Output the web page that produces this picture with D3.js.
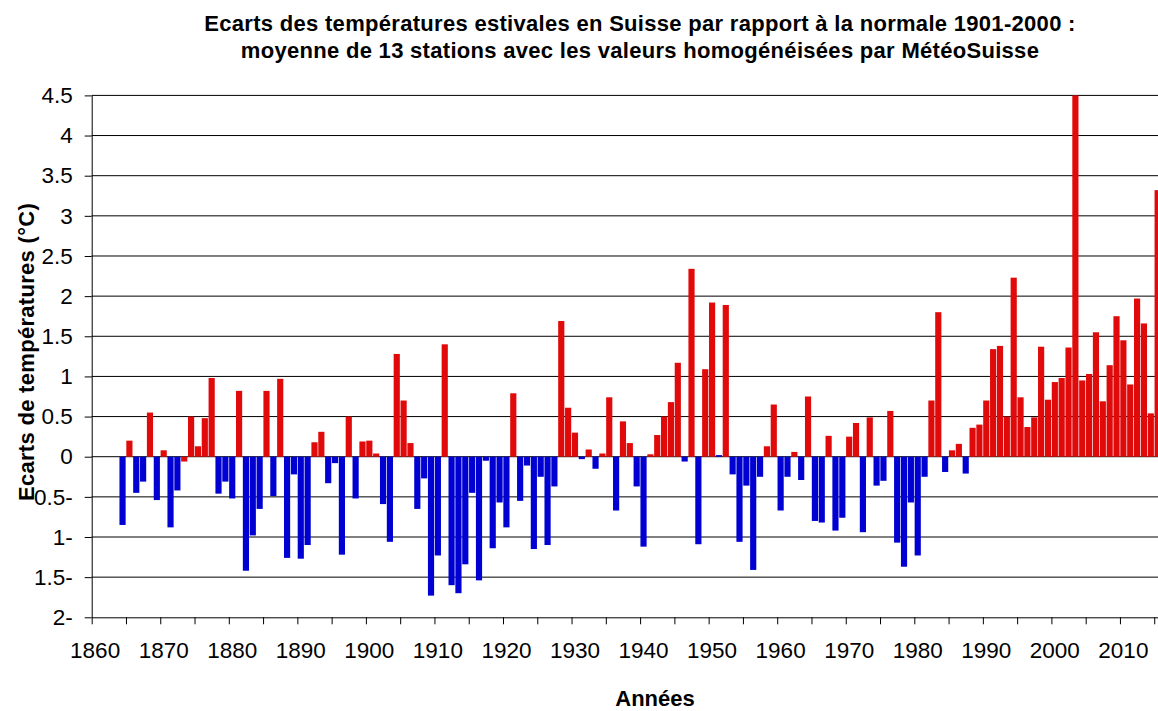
<!DOCTYPE html>
<html>
<head>
<meta charset="utf-8">
<script src="https://cdn.jsdelivr.net/npm/d3@7"></script>
<style>
  body { margin: 0; background: #fff; }
  svg { display: block; font-family: "Liberation Sans", Arial, sans-serif; }
</style>
</head>
<body>
<svg id="chart" width="1158" height="711"></svg>
<script>
// summer anomalies vs 1901-2000 normal, one value per year 1864..2015
const years = d3.range(1864, 2016);
const anomalies = [
  -0.85, 0.20, -0.45, -0.31, 0.55, -0.54, 0.08, -0.88, -0.42, -0.06,   // 1864-1873
  0.50, 0.13, 0.48, 0.98, -0.46, -0.31, -0.52, 0.82, -1.42, -0.98,     // 1874-1883
  -0.65, 0.82, -0.49, 0.97, -1.26, -0.22, -1.27, -1.10, 0.18, 0.31,    // 1884-1893
  -0.33, -0.08, -1.22, 0.50, -0.52, 0.19, 0.20, 0.04, -0.59, -1.06,    // 1894-1903
  1.28, 0.70, 0.17, -0.65, -0.27, -1.73, -1.23, 1.40, -1.60, -1.70,    // 1904-1913
  -1.34, -0.45, -1.54, -0.05, -1.14, -0.57, -0.88, 0.79, -0.55, -0.11, // 1914-1923
  -1.15, -0.25, -1.10, -0.37, 1.69, 0.61, 0.30, -0.03, 0.09, -0.15,    // 1924-1933
  0.04, 0.74, -0.67, 0.44, 0.17, -0.37, -1.12, 0.03, 0.27, 0.50,       // 1934-1943
  0.68, 1.17, -0.06, 2.34, -1.09, 1.09, 1.92, 0.02, 1.89, -0.22,       // 1944-1953
  -1.06, -0.36, -1.41, -0.25, 0.13, 0.65, -0.67, -0.25, 0.06, -0.29,   // 1954-1963
  0.75, -0.80, -0.82, 0.26, -0.92, -0.76, 0.25, 0.42, -0.94, 0.49,     // 1964-1973
  -0.36, -0.30, 0.57, -1.07, -1.37, -0.57, -1.23, -0.25, 0.70, 1.80,   // 1974-1983
  -0.19, 0.08, 0.16, -0.21, 0.36, 0.40, 0.70, 1.34, 1.38, 0.50,        // 1984-1993
  2.23, 0.74, 0.37, 0.49, 1.37, 0.71, 0.93, 0.98, 1.36, 4.50,          // 1994-2003
  0.95, 1.03, 1.55, 0.69, 1.14, 1.75, 1.45, 0.90, 1.97, 1.66,          // 2004-2013
  0.54, 3.32                                                           // 2014-2015
];
// years whose bar colour does not follow the sign in the original
const warmBelowZero = [1873];
const coldAboveZero = [1951];

const yTicks = [-2, -1.5, -1, -0.5, 0, 0.5, 1, 1.5, 2, 2.5, 3, 3.5, 4, 4.5];
const xTickYears = d3.range(1860, 2016, 5);
const xLabelYears = d3.range(1860, 2011, 10);

const titleLines = [
  "Ecarts des températures estivales en Suisse par rapport à la normale 1901-2000 :",
  "moyenne de 13 stations avec les valeurs homogénéisées par MétéoSuisse"
];
const yTitle = "Ecarts de températures (°C)";
const xTitle = "Années";

const plot = {left: 91.7, top: 95.4, bottom: 617.3, right: 1158};
const yearStep = 6.855;
const firstYear = 1860, endYear = 2016;
const red = "#e00a0a", blue = "#0000d2";

const svg = d3.select("#chart");

const x = d3.scaleBand()
  .domain(d3.range(firstYear, endYear))
  .range([plot.left, plot.left + (endYear - firstYear) * yearStep])
  .paddingInner(0.1)
  .paddingOuter(0.05);

const xEdge = d3.scaleLinear()
  .domain([firstYear, endYear])
  .range([plot.left, plot.left + (endYear - firstYear) * yearStep]);

const y = d3.scaleLinear()
  .domain([-2, 4.5])
  .range([plot.bottom, plot.top]);

// gridlines
svg.append("g")
  .selectAll("line")
  .data(yTicks.filter(d => d > -2))
  .enter().append("line")
    .attr("x1", plot.left)
    .attr("x2", plot.right)
    .attr("y1", d => y(d))
    .attr("y2", d => y(d))
    .attr("stroke", "#000")
    .attr("stroke-width", 1);

// bars
const data = years.map((yr, i) => ({year: yr, value: anomalies[i]}));

function barColour(d) {
  if (warmBelowZero.includes(d.year)) return red;
  if (coldAboveZero.includes(d.year)) return blue;
  return d.value >= 0 ? red : blue;
}

svg.append("g")
  .selectAll("rect")
  .data(data)
  .enter().append("rect")
    .attr("x", d => x(d.year))
    .attr("width", x.bandwidth())
    .attr("y", d => y(Math.max(0, d.value)))
    .attr("height", d => Math.abs(y(d.value) - y(0)))
    .attr("fill", barColour);

// y axis
const fmt = d3.format("~g");
const yAxis = svg.append("g")
  .attr("transform", "translate(" + plot.left + ",0)")
  .call(d3.axisLeft(y)
    .tickValues(yTicks)
    .tickSize(7)
    .tickSizeOuter(0)
    .tickPadding(12)
    .tickFormat(d => d < 0 ? fmt(-d) + "-" : fmt(d)));

yAxis.attr("font-family", null).attr("font-size", null);
yAxis.selectAll("text")
  .attr("font-size", "22.5px")
  .attr("fill", "#000");
yAxis.selectAll("line, path").attr("stroke", "#000");

// x axis: tick marks every 5 years on the category edges
const xAxis = svg.append("g")
  .attr("transform", "translate(0," + plot.bottom + ")")
  .call(d3.axisBottom(xEdge)
    .tickValues(xTickYears)
    .tickSize(7)
    .tickSizeOuter(0)
    .tickFormat(""));
xAxis.selectAll("line, path").attr("stroke", "#000");

// x labels, centred on their year
const xLabels = svg.append("g")
  .attr("transform", "translate(0," + plot.bottom + ")")
  .call(d3.axisBottom(x)
    .tickValues(xLabelYears)
    .tickSize(0)
    .tickPadding(25));
xLabels.select(".domain").remove();
xLabels.attr("font-family", null).attr("font-size", null);
xLabels.selectAll("text")
  .attr("font-size", "22.5px")
  .attr("fill", "#000");

// titles
svg.append("g")
  .selectAll("text")
  .data(titleLines)
  .enter().append("text")
    .attr("x", 640)
    .attr("y", (d, i) => 31 + i * 27)
    .attr("text-anchor", "middle")
    .attr("font-weight", "bold")
    .attr("font-size", "22px")
    .attr("letter-spacing", "0.3px")
    .text(d => d);

svg.append("text")
  .attr("transform", "translate(34,352) rotate(-90)")
  .attr("text-anchor", "middle")
  .attr("font-weight", "bold")
  .attr("font-size", "22px")
  .attr("letter-spacing", "0.3px")
  .text(yTitle);

svg.append("text")
  .attr("x", 655)
  .attr("y", 706)
  .attr("text-anchor", "middle")
  .attr("font-weight", "bold")
  .attr("font-size", "22px")
  .text(xTitle);
</script>
</body>
</html>
